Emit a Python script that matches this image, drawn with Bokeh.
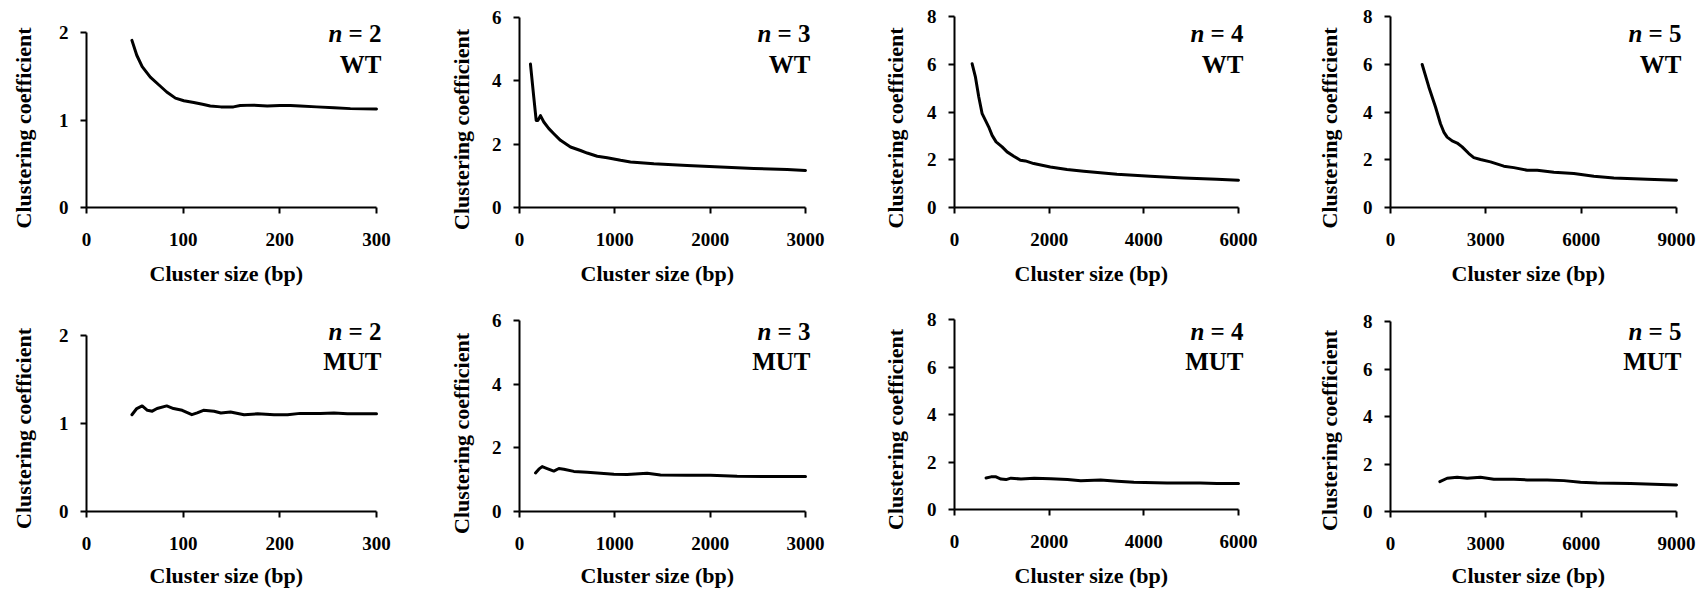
import math
from bokeh.plotting import figure
from bokeh.layouts import column, row
from bokeh.models import Range1d, FixedTicker, Label, LinearAxis
from bokeh.embed import file_html
from bokeh.resources import INLINE

# ---------------- data ----------------
wt2_x = [47, 52, 57.6, 66, 75, 83, 92, 100.7, 111, 120, 128, 139, 152, 159, 173, 187, 200, 211, 221, 238, 256, 273, 300]
wt2_y = [1.91, 1.74, 1.61, 1.49, 1.40, 1.32, 1.25, 1.22, 1.20, 1.18, 1.16, 1.15, 1.15, 1.165, 1.17, 1.16, 1.165, 1.165, 1.16, 1.15, 1.14, 1.13, 1.125]

wt3_x = [115, 150, 175, 192, 220, 255, 308, 360, 430, 535, 640, 710, 815, 920, 1060, 1164, 1409, 1759, 2108, 2458, 2808, 3000]
wt3_y = [4.53, 3.48, 2.75, 2.75, 2.9, 2.70, 2.49, 2.33, 2.12, 1.91, 1.80, 1.72, 1.62, 1.57, 1.49, 1.44, 1.38, 1.33, 1.28, 1.23, 1.20, 1.17]

wt4_x = [373, 443, 513, 584, 654, 724, 795, 879, 1006, 1111, 1252, 1392, 1498, 1674, 2025, 2377, 2729, 3432, 4135, 4838, 5541, 6000]
wt4_y = [6.02, 5.46, 4.63, 3.93, 3.65, 3.37, 3.02, 2.75, 2.54, 2.33, 2.15, 1.98, 1.95, 1.84, 1.70, 1.59, 1.52, 1.39, 1.31, 1.24, 1.18, 1.14]

wt5_x = [997, 1206, 1416, 1573, 1678, 1783, 1940, 2098, 2255, 2465, 2622, 2832, 3147, 3566, 3881, 4301, 4616, 5140, 5769, 6399, 7028, 8077, 9000]
wt5_y = [5.99, 5.05, 4.21, 3.51, 3.16, 2.95, 2.79, 2.70, 2.54, 2.26, 2.09, 2.01, 1.91, 1.73, 1.67, 1.56, 1.56, 1.48, 1.42, 1.31, 1.24, 1.18, 1.14]

mut2_x = [47, 52, 57.6, 63, 68, 73, 83, 90, 99, 109, 114.5, 121, 132, 139, 149, 163, 177, 194, 208, 221, 242, 256, 270, 300]
mut2_y = [1.10, 1.17, 1.20, 1.15, 1.14, 1.17, 1.20, 1.17, 1.15, 1.10, 1.12, 1.15, 1.14, 1.12, 1.13, 1.10, 1.11, 1.10, 1.10, 1.115, 1.115, 1.12, 1.11, 1.11]

mut3_x = [168, 203, 238, 290, 360, 413, 465, 570, 710, 850, 990, 1129, 1339, 1479, 1759, 2003, 2283, 2633, 3000]
mut3_y = [1.21, 1.33, 1.41, 1.35, 1.27, 1.35, 1.33, 1.26, 1.23, 1.20, 1.17, 1.16, 1.20, 1.15, 1.14, 1.14, 1.11, 1.10, 1.10]

mut4_x = [667, 772, 877, 982, 1088, 1193, 1404, 1684, 2035, 2386, 2667, 3088, 3439, 3789, 4491, 5193, 5544, 6000]
mut4_y = [1.33, 1.375, 1.375, 1.28, 1.26, 1.32, 1.28, 1.32, 1.29, 1.26, 1.21, 1.24, 1.19, 1.15, 1.12, 1.12, 1.09, 1.09]

mut5_x = [1553, 1783, 2098, 2413, 2832, 3252, 3881, 4301, 4930, 5455, 5979, 6504, 7553, 9000]
mut5_y = [1.26, 1.40, 1.44, 1.40, 1.44, 1.36, 1.36, 1.33, 1.33, 1.30, 1.23, 1.20, 1.18, 1.12]

x_ticks_n2 = [0, 100, 200, 300]
x_ticks_n3 = [0, 1000, 2000, 3000]
x_ticks_n4 = [0, 2000, 4000, 6000]
x_ticks_n5 = [0, 3000, 6000, 9000]
y_ticks_n2 = [0, 1, 2]
y_ticks_n3 = [0, 2, 4, 6]
y_ticks_n4 = [0, 2, 4, 6, 8]
y_ticks_n5 = [0, 2, 4, 6, 8]

n_labels = ["2", "3", "4", "5"]
genotypes = ["WT", "MUT"]
x_title = "Cluster size (bp)"
y_title = "Clustering coefficient"

FONT = "Liberation Serif"

# ---------------- layout (pixels) ----------------
col_starts = [0, 420, 850, 1280]
col_widths = [420, 430, 430, 427]
row_starts = [0, 295]
row_heights = [295, 299]
frame_lr = [(86, 376), (519, 805), (954, 1238), (1390, 1676)]
frame_tb = [[(32, 207), (17, 207), (16, 207), (16, 207)],
            [(335, 511), (320, 511), (319, 509), (321, 511)]]
ylab_cx = [23, 461, 895, 1329]
ylab_cy = [[127.5, 129, 127.5, 127.5], [428, 433, 429, 430]]
xlab_cy = [273, 575]
title_cy = [(33, 63.5), (331, 361)]

series = [[(wt2_x, wt2_y), (wt3_x, wt3_y), (wt4_x, wt4_y), (wt5_x, wt5_y)],
          [(mut2_x, mut2_y), (mut3_x, mut3_y), (mut4_x, mut4_y), (mut5_x, mut5_y)]]
xticks = [x_ticks_n2, x_ticks_n3, x_ticks_n4, x_ticks_n5]
yticks = [y_ticks_n2, y_ticks_n3, y_ticks_n4, y_ticks_n5]


def make_panel(r, c):
    xs, ys = series[r][c]
    xmax = xticks[c][-1]
    ymax = yticks[c][-1]
    L, R = frame_lr[c]
    T, B = frame_tb[r][c]
    cs, cw = col_starts[c], col_widths[c]
    rs, rh = row_starts[r], row_heights[r]
    ppx = (R - L) / xmax
    ppy = (B - T) / ymax
    x_start = -(L - cs) / ppx
    x_end = xmax + (cs + cw - R) / ppx
    y_start = -(rs + rh - B) / ppy
    y_end = ymax + (T - rs) / ppy

    p = figure(width=cw, height=rh,
               x_range=Range1d(x_start, x_end), y_range=Range1d(y_start, y_end),
               output_backend="svg", toolbar_location=None,
               x_axis_location=None, y_axis_location=None,
               min_border_left=0, min_border_right=0,
               min_border_top=0, min_border_bottom=0)
    p.outline_line_color = None
    p.grid.visible = False
    p.background_fill_color = "white"
    p.border_fill_color = "white"

    def to_data(px, py):
        return (px - L) / ppx, (B - py) / ppy

    xaxis = LinearAxis(fixed_location=0, bounds=(0, xmax),
                       ticker=FixedTicker(ticks=xticks[c]),
                       major_label_overrides={t: str(t) for t in xticks[c]})
    yaxis = LinearAxis(fixed_location=0, bounds=(0, ymax),
                       ticker=FixedTicker(ticks=yticks[c]),
                       major_label_overrides={t: str(t) for t in yticks[c]})
    for ax in (xaxis, yaxis):
        ax.axis_line_color = "black"
        ax.axis_line_width = 2
        ax.major_tick_line_color = "black"
        ax.major_tick_line_width = 2
        ax.major_tick_out = 6
        ax.major_tick_in = 0
        ax.minor_tick_line_color = None
        ax.major_label_text_font = FONT
        ax.major_label_text_font_style = "bold"
        ax.major_label_text_font_size = "19px"
        ax.major_label_text_color = "black"
    xaxis.major_label_standoff = 19
    yaxis.major_label_standoff = 12
    p.add_layout(xaxis, "below")
    p.add_layout(yaxis, "left")

    p.line(xs, ys, line_color="black", line_width=3, line_join="round", line_cap="round")

    # axis titles
    yx, yy = to_data(ylab_cx[c], ylab_cy[r][c])
    p.add_layout(Label(x=yx, y=yy, text=y_title, angle=math.pi / 2,
                       text_align="center", text_baseline="middle",
                       text_font=FONT, text_font_style="bold",
                       text_font_size="22px", text_color="black"))
    xx, xy = to_data((L + R) / 2 - 5, xlab_cy[r])
    p.add_layout(Label(x=xx, y=xy, text=x_title,
                       text_align="center", text_baseline="middle",
                       text_font=FONT, text_font_style="bold",
                       text_font_size="22px", text_color="black"))

    # panel titles
    c1, c2 = title_cy[r]
    tx, ty1 = to_data(R + 5, c1)
    _, ty2 = to_data(R + 5, c2)
    p.add_layout(Label(x=tx, y=ty1, text="= " + n_labels[c],
                       text_align="right", text_baseline="middle",
                       text_font=FONT, text_font_style="bold",
                       text_font_size="25px", text_color="black"))
    p.add_layout(Label(x=tx, y=ty1, x_offset=-39, text="n",
                       text_align="right", text_baseline="middle",
                       text_font=FONT, text_font_style="bold italic",
                       text_font_size="25px", text_color="black"))
    p.add_layout(Label(x=tx, y=ty2, text=genotypes[r],
                       text_align="right", text_baseline="middle",
                       text_font=FONT, text_font_style="bold",
                       text_font_size="25px", text_color="black"))
    return p


rows = []
for r in range(2):
    rows.append(row(*[make_panel(r, c) for c in range(4)], spacing=0))
layout = column(*rows, spacing=0)

open("out.html", "w").write(file_html(layout, INLINE))
